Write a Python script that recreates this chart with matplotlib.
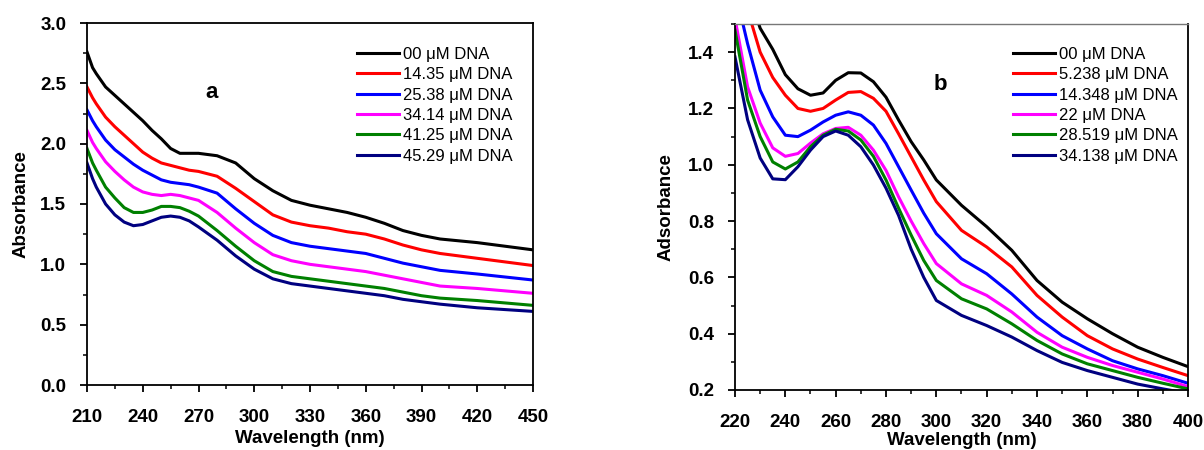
import matplotlib
matplotlib.use("Agg")
import matplotlib.pyplot as plt
from matplotlib.ticker import MultipleLocator, FormatStrFormatter

plt.rcParams['font.family'] = ['Liberation Sans', 'DejaVu Sans']

# panel a: absorbance vs wavelength (nm)
wl_a = [210, 213, 215, 220, 225, 230, 235, 240, 245, 250, 255, 260, 265, 270, 280,
        290, 300, 310, 320, 330, 340, 350, 360, 370, 380, 390, 400, 420, 450]
abs_a_00 = [2.76, 2.63, 2.58, 2.47, 2.40, 2.33, 2.26, 2.19, 2.11, 2.04, 1.96, 1.92, 1.92, 1.92, 1.90,
            1.84, 1.71, 1.61, 1.53, 1.49, 1.46, 1.43, 1.39, 1.34, 1.28, 1.24, 1.21, 1.18, 1.12]
abs_a_14 = [2.47, 2.38, 2.33, 2.22, 2.14, 2.07, 2.00, 1.93, 1.88, 1.84, 1.82, 1.80, 1.78, 1.77, 1.73,
            1.63, 1.52, 1.41, 1.35, 1.32, 1.30, 1.27, 1.25, 1.21, 1.16, 1.12, 1.09, 1.05, 0.99]
abs_a_25 = [2.28, 2.19, 2.14, 2.03, 1.95, 1.89, 1.83, 1.78, 1.74, 1.70, 1.68, 1.67, 1.66, 1.64, 1.59,
            1.46, 1.34, 1.24, 1.18, 1.15, 1.13, 1.11, 1.09, 1.05, 1.01, 0.98, 0.95, 0.92, 0.87]
abs_a_34 = [2.11, 2.01, 1.96, 1.85, 1.77, 1.70, 1.64, 1.60, 1.58, 1.57, 1.58, 1.57, 1.55, 1.53, 1.43,
            1.30, 1.18, 1.08, 1.03, 1.00, 0.98, 0.96, 0.94, 0.91, 0.88, 0.85, 0.82, 0.80, 0.76]
abs_a_41 = [1.96, 1.84, 1.78, 1.64, 1.55, 1.47, 1.43, 1.43, 1.45, 1.48, 1.48, 1.47, 1.44, 1.40, 1.28,
            1.15, 1.03, 0.94, 0.90, 0.88, 0.86, 0.84, 0.82, 0.80, 0.77, 0.74, 0.72, 0.70, 0.66]
abs_a_45 = [1.84, 1.71, 1.64, 1.50, 1.41, 1.35, 1.32, 1.33, 1.36, 1.39, 1.40, 1.39, 1.36, 1.31, 1.20,
            1.07, 0.96, 0.88, 0.84, 0.82, 0.80, 0.78, 0.76, 0.74, 0.71, 0.69, 0.67, 0.64, 0.61]
labels_a = ['00 μM DNA', '14.35 μM DNA', '25.38 μM DNA', '34.14 μM DNA',
            '41.25 μM DNA', '45.29 μM DNA']

# panel b
wl_b = [220, 225, 230, 235, 240, 245, 250, 255, 260, 265, 270, 275, 280, 285, 290, 295,
        300, 310, 320, 330, 340, 350, 360, 370, 380, 390, 400]
abs_b_00 = [1.80, 1.62, 1.485, 1.41, 1.32, 1.27, 1.247, 1.255, 1.30, 1.327, 1.326, 1.295, 1.24, 1.159,
            1.082, 1.017, 0.946, 0.856, 0.78, 0.696, 0.589, 0.512, 0.453, 0.40, 0.352, 0.316, 0.283]
abs_b_05 = [1.72, 1.55, 1.40, 1.31, 1.247, 1.20, 1.19, 1.20, 1.23, 1.257, 1.26, 1.236, 1.19, 1.11,
            1.028, 0.946, 0.869, 0.767, 0.708, 0.637, 0.536, 0.459, 0.393, 0.346, 0.31, 0.28, 0.251]
abs_b_14 = [1.62, 1.43, 1.265, 1.17, 1.105, 1.10, 1.123, 1.152, 1.176, 1.188, 1.176, 1.141, 1.076, 0.993,
            0.91, 0.828, 0.755, 0.666, 0.613, 0.541, 0.459, 0.393, 0.346, 0.304, 0.275, 0.251, 0.224]
abs_b_22 = [1.52, 1.277, 1.148, 1.06, 1.03, 1.04, 1.077, 1.11, 1.129, 1.133, 1.105, 1.052, 0.98, 0.886,
            0.80, 0.72, 0.649, 0.577, 0.536, 0.477, 0.405, 0.352, 0.316, 0.287, 0.263, 0.239, 0.212]
abs_b_28 = [1.478, 1.23, 1.10, 1.01, 0.985, 1.01, 1.064, 1.105, 1.126, 1.12, 1.088, 1.03, 0.946, 0.846,
            0.75, 0.66, 0.589, 0.524, 0.488, 0.435, 0.376, 0.328, 0.293, 0.269, 0.245, 0.224, 0.204]
abs_b_34 = [1.383, 1.16, 1.024, 0.95, 0.947, 0.993, 1.052, 1.10, 1.12, 1.105, 1.064, 0.999, 0.917, 0.82,
            0.70, 0.60, 0.518, 0.465, 0.429, 0.388, 0.34, 0.298, 0.269, 0.245, 0.221, 0.204, 0.188]
labels_b = ['00 μM DNA', '5.238 μM DNA', '14.348 μM DNA', '22 μM DNA',
            '28.519 μM DNA', '34.138 μM DNA']

colors = ['#000000', '#ff0000', '#0000ff', '#ff00ff', '#008000', '#000080']

fig = plt.figure(figsize=(12.04, 4.5), dpi=100)
ax_a = fig.add_axes([87/1204, 1-385/450, (533-87)/1204, (385-23)/450])
ax_b = fig.add_axes([735/1204, 1-390/450, (1188-735)/1204, (390-24)/450])


def style_axis(ax):
    for s in ax.spines.values():
        s.set_linewidth(1.3)
    ax.tick_params(which='major', direction='out', length=5, width=1.3, pad=10,
                   labelsize=13.5, top=False, right=False)
    ax.tick_params(axis='x', which='major', pad=12)
    ax.tick_params(which='minor', direction='out', length=3, width=1.1,
                   top=False, right=False)
    for lab in ax.get_xticklabels() + ax.get_yticklabels():
        lab.set_fontweight('bold')
    ax.yaxis.set_major_formatter(FormatStrFormatter('%.1f'))


def add_legend(ax, x_px):
    ax.legend(loc='upper left', bbox_to_anchor=(x_px/1204, 1-47/450),
              bbox_transform=fig.transFigure, frameon=False, fontsize=12,
              handlelength=2.5, handletextpad=0.25, labelspacing=0.32,
              borderpad=0, borderaxespad=0)


for ys, c, lab in zip([abs_a_00, abs_a_14, abs_a_25, abs_a_34, abs_a_41, abs_a_45], colors, labels_a):
    ax_a.plot(wl_a, ys, color=c, lw=2.2, label=lab, solid_joinstyle='round')
ax_a.set_xlim(210, 450)
ax_a.set_ylim(0, 3.0)
ax_a.xaxis.set_major_locator(MultipleLocator(30))
ax_a.xaxis.set_minor_locator(MultipleLocator(15))
ax_a.yaxis.set_major_locator(MultipleLocator(0.5))
ax_a.yaxis.set_minor_locator(MultipleLocator(0.25))
style_axis(ax_a)
ax_a.set_xlabel('Wavelength (nm)', fontsize=13.5, fontweight='bold', labelpad=3)
ax_a.set_ylabel('Absorbance', fontsize=13.5, fontweight='bold', labelpad=8)
fig.text(212/1204, 1-92/450, 'a', fontsize=16, fontweight='bold', ha='center', va='center')
add_legend(ax_a, 357)

for ys, c, lab in zip([abs_b_00, abs_b_05, abs_b_14, abs_b_22, abs_b_28, abs_b_34], colors, labels_b):
    ax_b.plot(wl_b, ys, color=c, lw=2.2, label=lab, solid_joinstyle='round')
ax_b.set_xlim(220, 400)
ax_b.set_ylim(0.2, 1.5)
ax_b.xaxis.set_major_locator(MultipleLocator(20))
ax_b.xaxis.set_minor_locator(MultipleLocator(10))
ax_b.yaxis.set_major_locator(MultipleLocator(0.2))
ax_b.yaxis.set_minor_locator(MultipleLocator(0.1))
style_axis(ax_b)
ax_b.spines['top'].set_color('#777777')
ax_b.spines['top'].set_linewidth(1.0)
ax_b.set_xlabel('Wavelength (nm)', fontsize=13.5, fontweight='bold', labelpad=1)
ax_b.set_ylabel('Adsorbance', fontsize=13.5, fontweight='bold', labelpad=10)
fig.text(940/1204, 1-85/450, 'b', fontsize=16, fontweight='bold', ha='center', va='center')
add_legend(ax_b, 1013)

fig.savefig('out.png', dpi=100)
